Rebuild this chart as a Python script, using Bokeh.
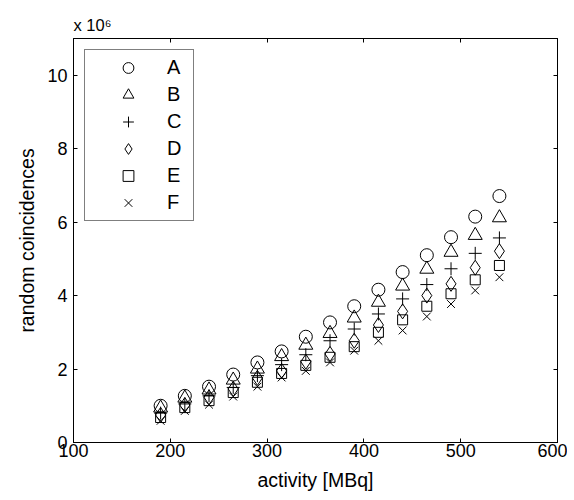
from bokeh.plotting import figure
from bokeh.models import LinearAxis, Range1d, FixedTicker
from bokeh.embed import file_html
from bokeh.resources import INLINE

# activity in MBq
activity = [190, 215, 240, 265, 290, 315, 340, 365, 390, 415, 440, 465, 490, 515, 540]
# random coincidences in units of 1e6
A = [1.00, 1.27, 1.52, 1.85, 2.18, 2.48, 2.88, 3.27, 3.71, 4.16, 4.64, 5.10, 5.59, 6.15, 6.71]
B = [0.94, 1.21, 1.43, 1.70, 2.00, 2.34, 2.65, 2.97, 3.39, 3.82, 4.26, 4.72, 5.18, 5.64, 6.12]
C = [0.80, 1.05, 1.27, 1.50, 1.82, 2.12, 2.39, 2.77, 3.09, 3.50, 3.91, 4.30, 4.73, 5.15, 5.57]
D = [0.75, 1.02, 1.23, 1.46, 1.76, 1.95, 2.20, 2.41, 2.77, 3.20, 3.57, 4.00, 4.32, 4.76, 5.21]
E = [0.68, 0.95, 1.14, 1.36, 1.64, 1.88, 2.10, 2.32, 2.61, 3.00, 3.34, 3.71, 4.05, 4.43, 4.82]
F = [0.59, 0.86, 1.03, 1.25, 1.52, 1.77, 1.95, 2.18, 2.50, 2.77, 3.05, 3.43, 3.77, 4.14, 4.50]

series_names = ["A", "B", "C", "D", "E", "F"]
series_values = [A, B, C, D, E, F]
markers = ["circle", "triangle", "cross", "diamond", "square", "x"]
sizes = [13, 14, 13, 15, 10, 11]

x_ticks = [100, 200, 300, 400, 500, 600]
y_ticks = [0, 2, 4, 6, 8, 10]

FONT = "Liberation Sans"

p = figure(frame_width=484, frame_height=404, output_backend="svg", toolbar_location=None,
           x_range=Range1d(100, 600), y_range=Range1d(0, 11),
           min_border_left=73, min_border_right=10, min_border_top=38, min_border_bottom=56,
           background_fill_color="white", border_fill_color="white",
           title="x 10\u2076")
p.grid.visible = False
p.outline_line_color = "black"
p.outline_line_width = 1

p.title.align = "left"
p.title.text_font = FONT
p.title.text_font_size = "16.5px"
p.title.text_font_style = "normal"
p.title.text_color = "black"
p.title.standoff = 9

for name, vals, mk, sz in zip(series_names, series_values, markers, sizes):
    p.scatter(activity, vals, marker=mk, size=sz, line_color="black",
              fill_color=None, line_width=1, legend_label=name)

def style_axis(ax, ticks, show_labels):
    ax.ticker = FixedTicker(ticks=ticks)
    ax.major_tick_in = 4
    ax.major_tick_out = 0
    ax.minor_tick_line_color = None
    ax.axis_line_color = "black"
    ax.major_tick_line_color = "black"
    ax.major_label_text_font = FONT
    ax.major_label_text_color = "black"
    ax.axis_label_text_font = FONT
    ax.axis_label_text_font_style = "normal"
    ax.axis_label_text_color = "black"
    ax.major_label_text_font_size = "18px"
    ax.axis_label_text_font_size = "19.5px"
    if not show_labels:
        ax.major_label_overrides = {t: "" for t in ticks}
        ax.major_label_standoff = 0

style_axis(p.xaxis[0], x_ticks, True)
style_axis(p.yaxis[0], y_ticks, True)
p.xaxis[0].axis_label = "activity [MBq]"
p.yaxis[0].axis_label = "random coincidences"
p.xaxis[0].major_label_standoff = 1
p.xaxis[0].axis_label_standoff = 9
p.yaxis[0].major_label_standoff = 6
p.yaxis[0].axis_label_standoff = 6

top = LinearAxis()
style_axis(top, x_ticks, False)
p.add_layout(top, "above")
right = LinearAxis()
style_axis(right, y_ticks, False)
p.add_layout(right, "right")

lg = p.legend[0]
lg.location = "top_left"
lg.margin = 11
lg.padding = 4
lg.spacing = 0
lg.glyph_width = 78
lg.glyph_height = 27
lg.label_height = 27
lg.label_width = 22
lg.label_standoff = 0
lg.label_text_font = FONT
lg.label_text_font_size = "20px"
lg.label_text_color = "black"
lg.border_line_color = "black"
lg.border_line_width = 1
lg.background_fill_alpha = 1

open("out.html", "w").write(file_html(p, INLINE))
